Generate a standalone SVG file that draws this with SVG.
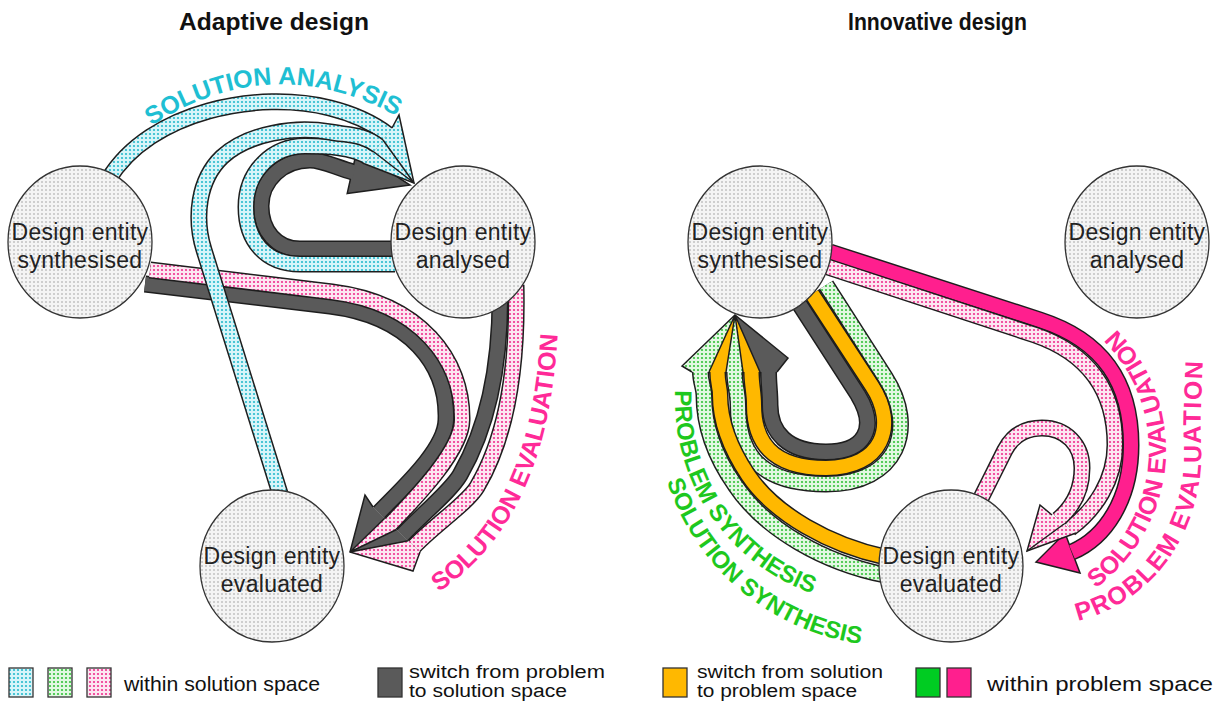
<svg xmlns="http://www.w3.org/2000/svg" width="1221" height="720" viewBox="0 0 1221 720">
<defs>
<pattern id="pn" width="4" height="4" patternUnits="userSpaceOnUse"><rect width="4" height="4" fill="#f4f4f4"/><circle cx="2" cy="2" r="1" fill="#c2c2c2"/></pattern>
<pattern id="pc" width="4" height="4" patternUnits="userSpaceOnUse"><rect width="4" height="4" fill="#d8f5f9"/><circle cx="2" cy="2" r="1.1" fill="#27bacd"/></pattern>
<pattern id="pg" width="4" height="4" patternUnits="userSpaceOnUse"><rect width="4" height="4" fill="#e2f8e2"/><circle cx="2" cy="2" r="1.1" fill="#33c23a"/></pattern>
<pattern id="pp" width="4" height="4" patternUnits="userSpaceOnUse"><rect width="4" height="4" fill="#fde6f1"/><circle cx="2" cy="2" r="1.1" fill="#ef2f8e"/></pattern>
<style>
.o{fill:none;stroke:#1e1e1e;stroke-width:17}
.f{fill:none;stroke-width:14}
.cy{stroke:url(#pc)} .pk{stroke:url(#pp)} .dk{stroke:#5a5a5a} .mg{stroke:#ff1f8e} .or{stroke:#ffb800} .gr{stroke:url(#pg)}
.Fcy{fill:url(#pc)} .Fpk{fill:url(#pp)} .Fdk{fill:#5a5a5a} .Fmg{fill:#ff1f8e} .For{fill:#ffb800} .Fgr{fill:url(#pg)}
.hd{stroke:#1e1e1e;stroke-width:1.5;stroke-linejoin:miter}
.ln{fill:none;stroke:#1e1e1e;stroke-width:1.5;stroke-linejoin:miter}
.node{fill:url(#pn);stroke:#333;stroke-width:1.3}
.nt{font-family:"Liberation Sans",Arial,sans-serif;font-size:23px;letter-spacing:0.3px;fill:#222;text-anchor:middle}
.lab{font-family:"Liberation Sans",Arial,sans-serif;font-size:25px;font-weight:bold}
.lab24{font-family:"Liberation Sans",Arial,sans-serif;font-size:24px;font-weight:bold}
.title{font-family:"Liberation Sans",Arial,sans-serif;font-size:23px;font-weight:bold;fill:#111}
.leg{font-family:"Liberation Sans",Arial,sans-serif;font-size:21px;fill:#111}
.leg2{font-family:"Liberation Sans",Arial,sans-serif;font-size:18px;fill:#111}
</style>
<!-- left band paths -->
<path id="pa" d="M 108 180 C 150 110 260 90 330 108 C 350 113 371.5 122 387.5 134"/>
<path id="pb" d="M 282 500 L 204 250 C 194 218 198 180 222 157 C 248 133 295 126 330 132 C 350 135.5 362.5 134 378.5 146"/>
<path id="pcc" d="M 395 264 L 300 264 C 265 264 246 240 246 207 C 246 172 272 146 305 146 C 322 146 353.5 146 369.5 158"/>
<path id="pd" d="M 395 249 L 300 249 C 276 249 261 230 261 206 C 261 180 283 160 310 160 C 322 160 335 167 354 172.4"/>
<path id="pd1" d="M 145 284 L 330 306 C 410 316 448 365 446 420 C 445.5 450 399.6 490.9 378.9 512.6"/>
<path id="pp1" d="M 150 270 L 332 292 C 420 303 463 360 462 420 C 461.5 452 411.3 502.2 390.6 523.9"/>
<path id="pd2" d="M 500 290 C 501 370 486 430 460 475 C 451 490.6 423.1 513.4 402.4 535.1"/>
<path id="pp2" d="M 516 285 C 518 370 505 440 477 487 C 467.5 503 434.8 524.7 414.1 546.4"/>
<!-- right band paths -->
<path id="rmg" d="M 830 252 L 1040 320 C 1105 341 1131 385 1131 445 C 1131 500 1105 538 1072 552"/>
<path id="rps" d="M 828 267 L 1035 335 C 1090 354 1115 392 1115 445 C 1115 480 1095 510 1070 528.5"/>
<path id="rpl" d="M 980 500 L 1005 450 C 1013 435 1025 428 1042 428 C 1066 428 1082 445 1082 468 C 1082 490 1073 507 1058 519.5"/>
<path id="rdk" d="M 798 302 L 858 395 C 878 428 865 452 826 452 C 787 452 770 432 770 405 C 770 392 768.5 385 768.5 372"/>
<path id="ror" d="M 812 294 L 872 386 C 898 426 882 468 826 468 C 770 468 754 440 754 405 C 754 392 751.5 385 751.5 372"/>
<path id="rgr" d="M 826 285 L 885 377 C 918 428 898 484 826 484 C 754 484 738 448 738 405 C 738 392 734.5 385 734.5 372"/>
<path id="ror2" d="M 885 557 C 830 545 775 515 748 475 C 730 448 720 420 720 395 C 720 388 717.5 382 717.5 372"/>
<path id="rgr2" d="M 885 575 C 825 563 765 530 735 485 C 714 455 704 425 704 395 C 704 388 700.5 382 700.5 372"/>
<!-- text paths -->
<path id="t1" d="M 148 128 Q 272 46 400 118"/>
<path id="t2" d="M 432 596 Q 550 525 558 326"/>
<path id="t3" d="M 676.1 378.6 A 205 205 0 0 0 823.5 597.1"/>
<path id="t4" d="M 663.5 469.7 A 238 238 0 0 0 872.7 645.2"/>
<path id="t5" d="M 1088.1 593.4 A 171 171 0 0 0 1109.4 322.9"/>
<path id="t6" d="M 1072 622 C 1155 605 1206 528 1201 441 C 1199.5 410 1204 360 1204 318"/>
</defs>
<rect width="1221" height="720" fill="#ffffff"/>

<text class="title" x="179" y="30" textLength="190" lengthAdjust="spacingAndGlyphs">Adaptive design</text>
<text class="title" x="848" y="30" textLength="179" lengthAdjust="spacingAndGlyphs">Innovative design</text>

<g id="connectors">
  <use href="#pd1" class="o"/><use href="#pd1" class="f dk"/>
  <use href="#pp1" class="o"/><use href="#pp1" class="f pk"/>
  <use href="#pd2" class="o"/><use href="#pd2" class="f dk"/>
  <use href="#pp2" class="o"/><use href="#pp2" class="f pk"/>
  <polygon class="Fdk" points="373,507 365,495 350,552 384.75,518.25"/>
  <polygon class="Fpk" points="384.75,518.25 350,552 396.5,529.5"/>
  <polygon class="Fdk" points="396.5,529.5 350,552 408.25,540.75"/>
  <polygon class="Fpk" points="408.25,540.75 350,552 413,571 420,552"/>
  <polyline class="ln" points="373,507 365,495 350,552 413,571 420,552"/>
  <path class="ln" d="M 384.75 518.25 L 350 552 M 396.5 529.5 L 350 552 M 408.25 540.75 L 350 552"/>

  <use href="#pd" class="o"/>
  <polygon class="Fdk hd" points="347.2,193.5 410,185 356.8,150.5"/>
  <use href="#pd" class="f dk"/>
  <use href="#pa" class="o"/><use href="#pa" class="f cy"/>
  <use href="#pcc" class="o"/><use href="#pcc" class="f cy"/>
  <use href="#pb" class="o"/><use href="#pb" class="f cy"/>
  <polygon class="Fcy" points="392,128 399,115 414,183 383,140"/>
  <polygon class="Fcy" points="383,140 414,183 374,152"/>
  <polygon class="Fcy" points="374,152 414,183 365,164"/>
  <polyline class="ln" points="392,128 399,115 414,183 365,164"/>
  <path class="ln" d="M 383 140 L 414 183 M 374 152 L 414 183"/>

  <use href="#rmg" class="o"/>
  <polygon class="Fmg hd" points="1080,573 1036,562 1065,533"/>
  <use href="#rmg" class="f mg"/>
  <use href="#rps" class="o"/><use href="#rps" class="f pk"/>
  <use href="#rpl" class="o"/><use href="#rpl" class="f pk"/>
  <polygon class="Fpk" points="1052,515 1040,505 1027,551 1064,524"/>
  <polygon class="Fpk" points="1064,524 1027,551 1076,533"/>
  <polyline class="ln" points="1052,515 1040,505 1027,551 1076,533"/>
  <path class="ln" d="M 1064 524 L 1027 551"/>

  <use href="#rdk" class="o"/><use href="#rdk" class="f dk"/>
  <use href="#ror" class="o"/><use href="#ror" class="f or"/>
  <use href="#rgr" class="o"/><use href="#rgr" class="f gr"/>
  <use href="#ror2" class="o"/><use href="#ror2" class="f or"/>
  <use href="#rgr2" class="o"/><use href="#rgr2" class="f gr"/>
  <polygon class="Fgr" points="692,372 682,366 735,315 709,372"/>
  <polygon class="For" points="709,372 735,315 726,372"/>
  <polygon class="Fgr" points="726,372 735,315 743,372"/>
  <polygon class="For" points="743,372 735,315 760,372"/>
  <polygon class="Fdk" points="760,372 735,315 788,358 777,372"/>
  <polyline class="ln" points="692,372 682,366 735,315 788,358 777,372"/>
  <path class="ln" d="M 709 372 L 735 315 M 726 372 L 735 315 M 743 372 L 735 315 M 760 372 L 735 315"/>
</g>

<g id="labels">
  <text class="lab" fill="#1fbfd3"><textPath href="#t1" startOffset="50%" text-anchor="middle">SOLUTION ANALYSIS</textPath></text>
  <text class="lab" fill="#ff2a97"><textPath href="#t2" startOffset="50%" text-anchor="middle">SOLUTION EVALUATION</textPath></text>
  <text class="lab24" fill="#1ec81e"><textPath href="#t3" startOffset="50%" text-anchor="middle">PROBLEM SYNTHESIS</textPath></text>
  <text class="lab24" fill="#1ec81e"><textPath href="#t4" startOffset="50%" text-anchor="middle">SOLUTION SYNTHESIS</textPath></text>
  <text class="lab" fill="#ff2a97"><textPath href="#t5" startOffset="50%" text-anchor="middle">SOLUTION EVALUATION</textPath></text>
  <text class="lab" fill="#ff2a97" letter-spacing="1.5"><textPath href="#t6" startOffset="6">PROBLEM EVALUATION</textPath></text>
</g>

<g id="node-l-synth"><ellipse class="node" cx="80" cy="242" rx="72" ry="76"/><text class="nt" x="80" y="240">Design entity</text><text class="nt" x="80" y="268">synthesised</text></g>
<g id="node-l-anal"><ellipse class="node" cx="463" cy="242" rx="72" ry="76"/><text class="nt" x="463" y="240">Design entity</text><text class="nt" x="463" y="268">analysed</text></g>
<g id="node-l-eval"><ellipse class="node" cx="272" cy="566" rx="72" ry="76"/><text class="nt" x="272" y="564">Design entity</text><text class="nt" x="272" y="592">evaluated</text></g>
<g id="node-r-synth"><ellipse class="node" cx="760" cy="242" rx="72" ry="76"/><text class="nt" x="760" y="240">Design entity</text><text class="nt" x="760" y="268">synthesised</text></g>
<g id="node-r-anal"><ellipse class="node" cx="1137" cy="242" rx="72" ry="76"/><text class="nt" x="1137" y="240">Design entity</text><text class="nt" x="1137" y="268">analysed</text></g>
<g id="node-r-eval"><ellipse class="node" cx="951" cy="566" rx="72" ry="76"/><text class="nt" x="951" y="564">Design entity</text><text class="nt" x="951" y="592">evaluated</text></g>

<g id="legend">
  <rect x="9" y="668" width="24" height="29" fill="url(#pc)" stroke="#333" stroke-width="1.3"/>
  <rect x="48" y="668" width="24" height="29" fill="url(#pg)" stroke="#333" stroke-width="1.3"/>
  <rect x="87" y="668" width="24" height="29" fill="url(#pp)" stroke="#333" stroke-width="1.3"/>
  <text class="leg" x="124" y="691" textLength="196" lengthAdjust="spacingAndGlyphs">within solution space</text>
  <rect x="378" y="668" width="24" height="29" fill="#5a5a5a" stroke="#333" stroke-width="1.3"/>
  <text class="leg2" x="409" y="678" textLength="196" lengthAdjust="spacingAndGlyphs">switch from problem</text>
  <text class="leg2" x="409" y="697" textLength="158" lengthAdjust="spacingAndGlyphs">to solution space</text>
  <rect x="663" y="668" width="24" height="29" fill="#ffb800" stroke="#333" stroke-width="1.3"/>
  <text class="leg2" x="697" y="678" textLength="186" lengthAdjust="spacingAndGlyphs">switch from solution</text>
  <text class="leg2" x="697" y="697" textLength="160" lengthAdjust="spacingAndGlyphs">to problem space</text>
  <rect x="916" y="668" width="24" height="29" fill="#00cc22" stroke="#333" stroke-width="1.3"/>
  <rect x="947" y="668" width="24" height="29" fill="#ff1f8e" stroke="#333" stroke-width="1.3"/>
  <text class="leg" x="987" y="691" textLength="226" lengthAdjust="spacingAndGlyphs">within problem space</text>
</g>
</svg>
